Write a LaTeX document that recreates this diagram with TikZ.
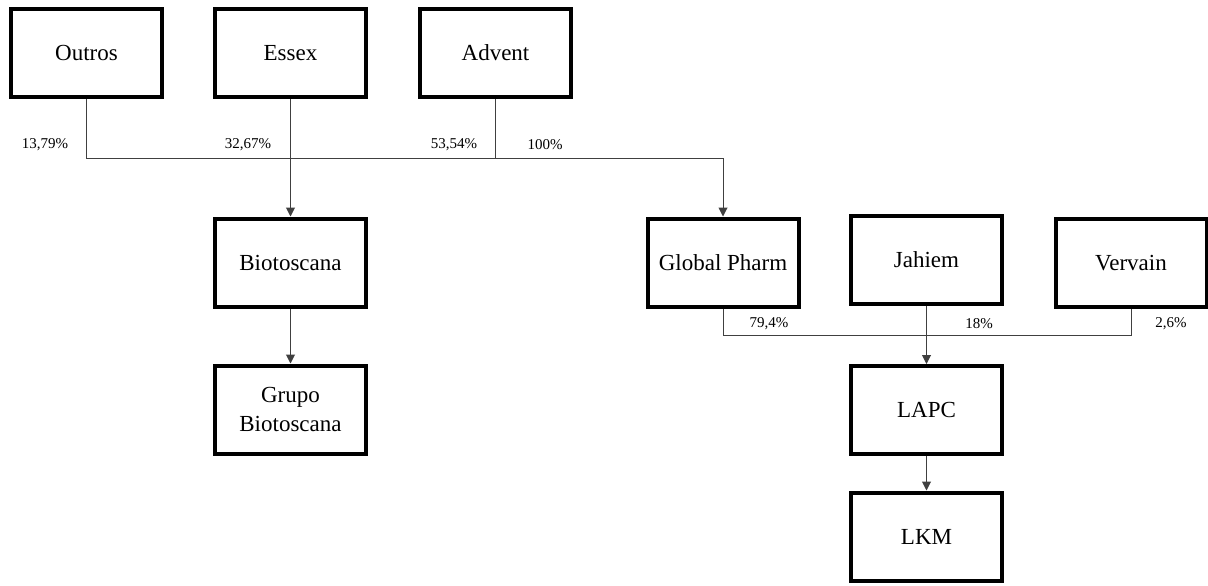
\documentclass[tikz,border=0pt]{standalone}
\usepackage{fontspec}
\setmainfont{Liberation Serif}
\usetikzlibrary{arrows.meta}
\tikzset{
  ent/.style={draw=black, line width=4pt, minimum width=151pt, minimum height=88pt,
    inner sep=2pt, align=center, font=\fontsize{23}{29}\selectfont, fill=white},
  conn/.style={draw=black!75, line width=1pt},
  arr/.style={-{Triangle[width=9pt,length=9pt]}},
  pct/.style={font=\fontsize{15}{18}\selectfont, inner sep=0pt}
}
\begin{document}
\begin{tikzpicture}[x=1pt,y=-1pt]
\useasboundingbox (0,0) rectangle (1208,586);
\coordinate (bus1) at (0,158);
\coordinate (bus2) at (0,335);
% connectors first
\node[ent] (outros) at (86.5,53) {Outros};
\node[ent] (essex) at (290.5,53) {Essex};
\node[ent] (advent) at (495.5,53) {Advent};
\node[ent] (bio) at (290.5,262.5) {Biotoscana};
\node[ent] (grupo) at (290.5,409.5) {Grupo\\Biotoscana};
\node[ent] (gp) at (723,262.5) {Global Pharm};
\node[ent] (jahiem) at (926.5,260) {Jahiem};
\node[ent] (vervain) at (1131,263) {Vervain};
\node[ent] (lapc) at (926.5,410) {LAPC};
\node[ent] (lkm) at (926.5,536.5) {LKM};
\draw[conn,arr] (outros.south) -- (outros.south |- bus1) -| (gp.north);
\draw[conn] (advent.south) -- (advent.south |- bus1);
\draw[conn,arr] (essex.south) -- (bio.north);
\draw[conn,arr] (bio.south) -- (grupo.north);
\draw[conn] (gp.south) |- (vervain.south |- bus2) -- (vervain.south);
\draw[conn,arr] (jahiem.south) -- (lapc.north);
\draw[conn,arr] (lapc.south) -- (lkm.north);
\node[pct] (p1) at (45,145) {13,79\%};
\node[pct] (p2) at (248,145) {32,67\%};
\node[pct] (p3) at (454,145) {53,54\%};
\node[pct] (p4) at (545,145) {100\%};
\node[pct] (p5) at (769,324) {79,4\%};
\node[pct] (p6) at (979,324) {18\%};
\node[pct] (p7) at (1171,324) {2,6\%};
\end{tikzpicture}
\end{document}
